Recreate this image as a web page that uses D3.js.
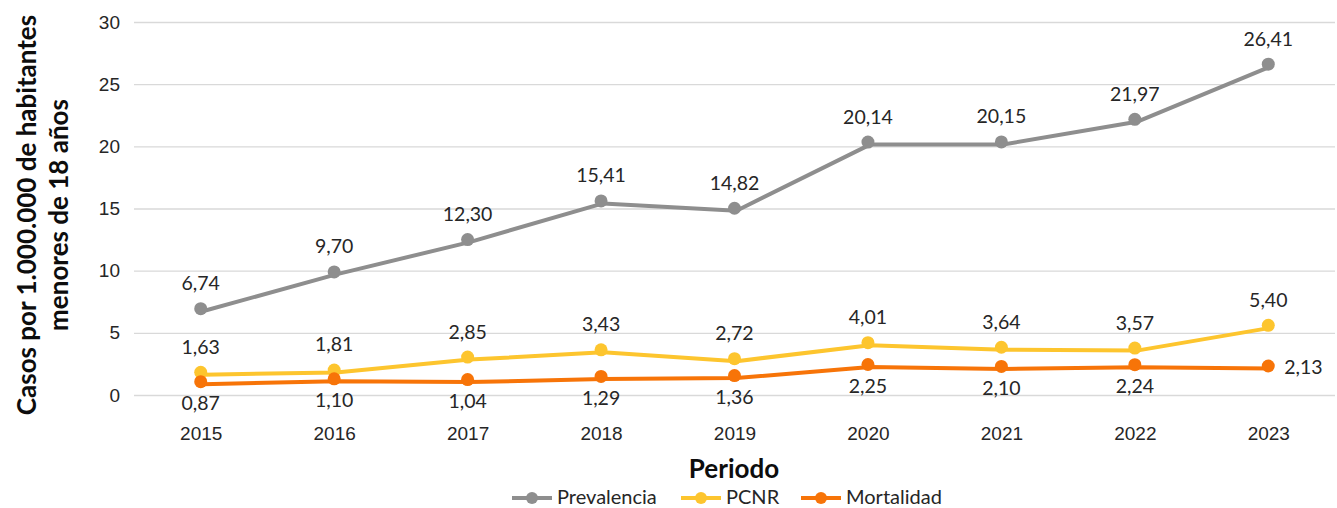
<!DOCTYPE html>
<html>
<head>
<meta charset="utf-8">
<script src="https://cdn.jsdelivr.net/npm/d3@7"></script>
<style>
  html, body { margin: 0; padding: 0; background: #fff; }
  svg { display: block; font-family: Lato, "Open Sans", sans-serif; }
</style>
</head>
<body>
<svg id="chart" width="1337" height="508"></svg>
<script>
// Years on the x axis
const years = ["2015", "2016", "2017", "2018", "2019", "2020", "2021", "2022", "2023"];

// Cases per 1.000.000 inhabitants under 18
const prevalencia = [6.74, 9.70, 12.30, 15.41, 14.82, 20.14, 20.15, 21.97, 26.41];
const pcnr        = [1.63, 1.81, 2.85, 3.43, 2.72, 4.01, 3.64, 3.57, 5.40];
const mortalidad  = [0.87, 1.10, 1.04, 1.29, 1.36, 2.25, 2.10, 2.24, 2.13];

const yTicks = [0, 5, 10, 15, 20, 25, 30];

const seriesList = [
  { name: "Prevalencia", values: prevalencia, color: "#8e8e8e", labelPos: "above" },
  { name: "PCNR",        values: pcnr,        color: "#fdc52e", labelPos: "above" },
  { name: "Mortalidad",  values: mortalidad,  color: "#f77408", labelPos: "below" }
];

const svg = d3.select("#chart");
const margin = { left: 134, right: 2, top: 22, bottom: 113 };
const W = 1337, H = 508;

const x = d3.scalePoint().domain(years).range([margin.left, W - margin.right]).padding(0.5);
const y = d3.scaleLinear().domain([0, 30]).range([H - margin.bottom, margin.top]);

const fmt = v => d3.format(".2f")(v).replace(".", ",");

// Horizontal gridlines and y tick labels
const yAxis = svg.append("g")
  .attr("transform", `translate(${margin.left},0)`)
  .call(d3.axisLeft(y).tickValues(yTicks).tickSize(-(W - margin.left - margin.right)).tickPadding(14));
yAxis.select(".domain").remove();
yAxis.selectAll(".tick line").attr("stroke", "#d9d9d9").attr("stroke-width", 1.3);
yAxis.selectAll(".tick text").attr("fill", "#262626").style("font-size", "19px");

// x tick labels
const xAxis = svg.append("g")
  .attr("transform", `translate(0,${H - margin.bottom})`)
  .call(d3.axisBottom(x).tickSize(0).tickPadding(32));
xAxis.select(".domain").remove();
xAxis.selectAll(".tick text").attr("fill", "#262626").style("font-size", "19px");

// Axis titles
svg.append("text")
  .attr("x", 734).attr("y", 478)
  .attr("text-anchor", "middle")
  .attr("fill", "#0d0d0d")
  .style("font-size", "26px").style("font-weight", "bold")
  .text("Periodo");

const yTitle = svg.append("text")
  .attr("transform", "translate(44,215) rotate(-90)")
  .attr("text-anchor", "middle")
  .attr("fill", "#0d0d0d")
  .style("font-size", "26px").style("font-weight", "bold");
yTitle.append("tspan").attr("x", 0).attr("dy", "-0.3em").text("Casos por 1.000.000 de habitantes");
yTitle.append("tspan").attr("x", 0).attr("dy", "1.22em").text("menores de 18 años");

// Lines, markers and data labels
const line = d3.line().x((d, i) => x(years[i])).y(d => y(d));

seriesList.forEach(s => {
  const g = svg.append("g");
  g.append("path")
    .datum(s.values)
    .attr("d", line)
    .attr("fill", "none")
    .attr("stroke", s.color)
    .attr("stroke-width", 4)
    .attr("stroke-linejoin", "round")
    .attr("transform", "translate(2,0)");
  g.selectAll("circle")
    .data(s.values)
    .join("circle")
    .attr("cx", (d, i) => x(years[i]))
    .attr("cy", d => y(d) - 2.5)
    .attr("r", 6.5)
    .attr("fill", s.color);
  g.selectAll("text")
    .data(s.values)
    .join("text")
    .attr("x", (d, i) => {
      if (s.name === "Mortalidad" && i === years.length - 1) return x(years[i]) + 16;
      return x(years[i]);
    })
    .attr("y", (d, i) => {
      if (s.name === "Mortalidad" && i === years.length - 1) return y(d) + 5;
      return s.labelPos === "above" ? y(d) - 21 : y(d) + 26;
    })
    .attr("text-anchor", (d, i) => (s.name === "Mortalidad" && i === years.length - 1) ? "start" : "middle")
    .attr("fill", "#262626")
    .style("font-size", "19.5px")
    .text(d => fmt(d));
});

// Legend
const legendItems = [
  { name: "Prevalencia", color: "#8e8e8e", x0: 512 },
  { name: "PCNR",        color: "#fdc52e", x0: 681 },
  { name: "Mortalidad",  color: "#f77408", x0: 801 }
];
const legendY = 498;
const lg = svg.append("g");
legendItems.forEach(it => {
  lg.append("line")
    .attr("x1", it.x0).attr("x2", it.x0 + 40)
    .attr("y1", legendY).attr("y2", legendY)
    .attr("stroke", it.color).attr("stroke-width", 4);
  lg.append("circle")
    .attr("cx", it.x0 + 20).attr("cy", legendY).attr("r", 6)
    .attr("fill", it.color);
  lg.append("text")
    .attr("x", it.x0 + 45).attr("y", legendY + 6)
    .attr("fill", "#262626")
    .style("font-size", "20px")
    .text(it.name);
});
</script>
</body>
</html>
